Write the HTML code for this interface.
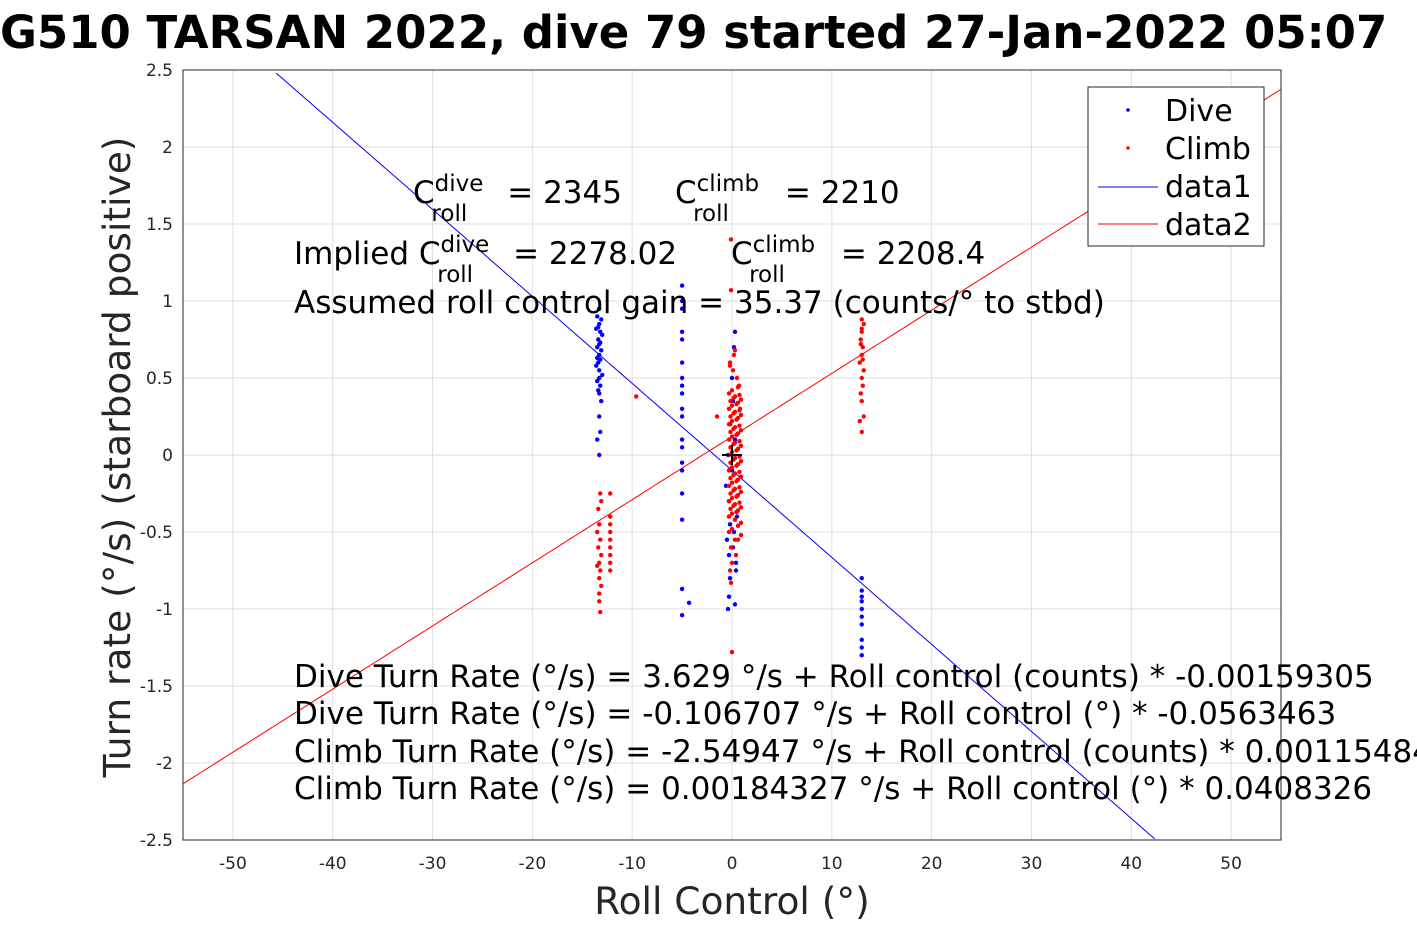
<!DOCTYPE html>
<html><head><meta charset="utf-8"><style>
body{margin:0;background:#fff;overflow:hidden;}
svg{display:block;font-family:"DejaVu Sans","Liberation Sans",sans-serif;}
</style></head><body>
<svg id="chart" width="1417" height="945" xmlns="http://www.w3.org/2000/svg">
<rect width="1417" height="945" fill="#fff"/>
<text x="0" y="48" font-size="45" font-weight="bold">G510 TARSAN 2022, dive 79 started 27-Jan-2022 05:07</text>
<rect x="183" y="70" width="1098" height="770" fill="#fff"/>
<g id="grid"></g>
<g id="axes"></g>
<g id="lines"></g>
<g id="points"></g>
<g font-size="31" fill="#000">
<text x="413" y="203">C<tspan font-size="23" dy="-12">dive</tspan><tspan font-size="23" dx="-52" dy="30">roll</tspan><tspan dy="-18" dx="40">= 2345</tspan></text>
<text x="675" y="203">C<tspan font-size="23" dy="-12">climb</tspan><tspan font-size="23" dx="-66" dy="30">roll</tspan><tspan dy="-18" dx="56">= 2210</tspan></text>
<text x="294" y="264">Implied C<tspan font-size="23" dy="-12">dive</tspan><tspan font-size="23" dx="-52" dy="30">roll</tspan><tspan dy="-18" dx="40">= 2278.02</tspan></text>
<text x="731" y="264">C<tspan font-size="23" dy="-12">climb</tspan><tspan font-size="23" dx="-66" dy="30">roll</tspan><tspan dy="-18" dx="56">= 2208.4</tspan></text>
<text x="294" y="313">Assumed roll control gain = 35.37 (counts/° to stbd)</text>
<text x="294" y="687">Dive Turn Rate (°/s) = 3.629 °/s + Roll control (counts) * -0.00159305</text>
<text x="294" y="724">Dive Turn Rate (°/s) = -0.106707 °/s + Roll control (°) * -0.0563463</text>
<text x="294" y="762">Climb Turn Rate (°/s) = -2.54947 °/s + Roll control (counts) * 0.00115484</text>
<text x="294" y="799">Climb Turn Rate (°/s) = 0.00184327 °/s + Roll control (°) * 0.0408326</text>
</g>
<g>
<rect x="1088" y="87" width="176" height="159" fill="#fff" stroke="#262626"/>
<circle cx="1128" cy="110" r="1.8" fill="#0000ff"/><text x="1165" y="121" font-size="30">Dive</text>
<circle cx="1128" cy="148" r="1.8" fill="#ff0000"/><text x="1165" y="159" font-size="30">Climb</text>
<line x1="1098" y1="187" x2="1158" y2="187" stroke="#0000ff"/><text x="1165" y="197" font-size="30">data1</text>
<line x1="1098" y1="224" x2="1158" y2="224" stroke="#ff0000"/><text x="1165" y="235" font-size="30">data2</text>
</g>
<text x="732" y="914" text-anchor="middle" font-size="37.5" fill="#262626">Roll Control (°)</text>
<text transform="translate(130,457) rotate(-90)" text-anchor="middle" font-size="37.5" fill="#262626">Turn rate (°/s) (starboard positive)</text>
</svg>
<script>
const xTicks=[-50,-40,-30,-20,-10,0,10,20,30,40,50];
const yTicks=[-2.5,-2,-1.5,-1,-0.5,0,0.5,1,1.5,2,2.5];
const diveFit=[-0.10,-0.0565];
const climbFit=[0.12,0.041];
const diveX=[-13.3,-13.5,-13.1,-13.3,-13.6,-13.2,-13.0,-13.4,-13.3,-13.5,-13.1,-13.3,-13.2,-13.4,-13.6,-13.3,-13.0,-13.3,-13.5,-13.2,-13.4,-13.3,-13.1,-13.3,-13.2,-13.5,-13.3,-13.4,-13.2,-13.5,
-5,-5,-5,-5,-5,-5,-5,-5,-5,-5,-5,-5,-5,-5,-5,-5,-5,-5,-5,-4.3,
-0.4,0.3,-0.2,0.4,-0.3,0.1,-0.5,0.2,-0.2,0.5,-0.3,-0.6,0.0,-0.4,0.3,-0.2,0.1,0.0,0.2,0.3,-0.3,0.4,
13,13,13,13,13,13,13,13,13,13];
const diveY=[0.95,0.9,0.88,0.85,0.82,0.8,0.78,0.75,0.72,0.7,0.68,0.65,0.62,0.6,0.58,0.55,0.52,0.5,0.48,0.45,0.42,0.4,0.35,0.25,0.15,0.1,0.0,0.83,0.73,0.63,
1.1,1.0,0.95,0.8,0.75,0.6,0.5,0.45,0.4,0.3,0.25,0.1,0.05,-0.05,-0.1,-0.25,-0.42,-0.87,-1.04,-0.96,
-1.0,-0.97,-0.8,-0.7,-0.65,-0.6,-0.55,-0.5,-0.45,-0.4,-0.3,-0.2,-0.1,0.0,0.1,0.2,0.35,0.5,0.7,0.8,-0.92,-0.75,
-0.8,-0.88,-0.92,-0.95,-1.0,-1.05,-1.1,-1.2,-1.25,-1.3];
const climbX=[-13.2,-13.1,-13.4,-13.3,-13.5,-13.2,-13.4,-13.1,-13.3,-13.5,-13.2,-13.3,-13.1,-13.3,-13.3,-13.2,
-12.2,-12.2,-12.2,-12.2,-12.2,-12.2,-12.2,-12.2,-12.2,-9.6,
-0.3,0.0,0.3,0.6,0.9,-0.3,0.0,0.3,0.6,0.9,-0.3,0.0,0.3,0.6,0.9,-0.3,0.0,0.3,0.6,0.9,-0.3,0.0,0.3,0.6,0.9,-0.3,0.0,0.3,0.6,0.9,-0.3,0.0,0.3,0.6,0.9,-0.3,0.0,0.3,0.6,0.9,-0.3,0.0,0.3,0.6,0.9,-0.3,0.0,0.3,0.6,0.9,
-0.15,0.15,0.45,0.75,-0.15,0.15,0.45,0.75,-0.15,0.15,0.45,0.75,-0.15,0.15,0.45,0.75,-0.15,0.15,0.45,0.75,-0.15,0.15,0.45,0.75,-0.15,0.15,0.45,0.75,-0.15,0.15,0.45,0.75,
0.1,0.5,-0.2,0.7,0.2,0.8,-0.1,0.4,0.0,-0.2,-0.2,0.6,-1.5,-0.1,0.3,
13,12.8,13.2,13,12.9,13.1,13,13.2,12.8,13,13.1,12.9,13,13.2,13,13.1,12.9,13,-0.1,-0.1,0.0];
const climbY=[-0.25,-0.3,-0.35,-0.45,-0.5,-0.55,-0.6,-0.65,-0.7,-0.72,-0.75,-0.8,-0.85,-0.9,-0.95,-1.02,
-0.25,-0.4,-0.45,-0.5,-0.55,-0.6,-0.65,-0.7,-0.75,0.38,
0.4,0.42,0.38,0.44,0.36,0.3,0.32,0.28,0.34,0.26,0.2,0.22,0.18,0.24,0.16,0.1,0.12,0.08,0.14,0.06,0.0,0.02,-0.02,0.04,-0.04,-0.1,-0.08,-0.12,-0.06,-0.14,-0.2,-0.18,-0.22,-0.16,-0.24,-0.3,-0.28,-0.32,-0.26,-0.34,-0.4,-0.38,-0.42,-0.36,-0.44,-0.5,-0.48,-0.55,-0.46,-0.52,
0.35,0.37,0.33,0.39,0.25,0.27,0.23,0.29,0.15,0.17,0.13,0.19,0.05,0.07,0.03,0.09,-0.05,-0.03,-0.07,-0.01,-0.15,-0.13,-0.17,-0.11,-0.25,-0.23,-0.27,-0.21,-0.35,-0.33,-0.37,-0.31,
0.55,0.5,0.6,0.45,0.65,0.3,-0.6,-0.65,-0.7,-0.75,0.58,-0.55,0.25,-0.83,0.68,
0.15,0.22,0.25,0.35,0.4,0.45,0.5,0.55,0.6,0.65,0.7,0.75,0.8,0.85,0.88,0.62,0.72,0.82,1.4,1.07,-1.28];
const L=183,R=1281,T=70,B=840,X0=-55,X1=55,Y0=-2.5,Y1=2.5;
const sx=v=>L+(v-X0)/(X1-X0)*(R-L), sy=v=>B-(v-Y0)/(Y1-Y0)*(B-T);
const NS='http://www.w3.org/2000/svg';
function mk(tag,parent,attrs){const e=document.createElementNS(NS,tag);for(const k in attrs)e.setAttribute(k,attrs[k]);document.getElementById(parent).appendChild(e);return e;}
xTicks.forEach(t=>{
 const g=mk('line','grid',{x1:sx(t),x2:sx(t),y1:T,y2:B,stroke:'#dfdfdf'});
 
 
 const tx=mk('text','axes',{x:sx(t),y:869,'text-anchor':'middle','font-size':17,fill:'#262626'});
 tx.textContent=t;
 
 
});
yTicks.forEach(t=>{
 const g=mk('line','grid',{x1:L,x2:R,y1:sy(t),y2:sy(t),stroke:'#dfdfdf'});
 
 
 const tx=mk('text','axes',{x:173,y:sy(t)+6,'text-anchor':'end','font-size':17,fill:'#262626'});
 tx.textContent=t;
 
 
});
const box=mk('rect','axes',{x:L,y:T,width:R-L,height:B-T,fill:'none',stroke:'#262626'});


function fitLine(f,color,name){
 const pts=[];for(let i=0;i<=200;i++){const x=X0+(X1-X0)*i/200;const y=f[0]+f[1]*x;if(y>=Y0&&y<=Y1)pts.push(sx(x)+','+sy(y));}
 const p=mk('polyline','lines',{points:pts.join(' '),fill:'none',stroke:color,'stroke-width':1});
 
 
}
fitLine(diveFit,'#0000ff','dive-fit-line');
fitLine(climbFit,'#ff0000','climb-fit-line');
diveX.forEach((x,i)=>{const c=mk('circle','points',{cx:sx(x),cy:sy(diveY[i]),r:2.2,fill:'#0000ff'});
 
 });
climbX.forEach((x,i)=>{const c=mk('circle','points',{cx:sx(x),cy:sy(climbY[i]),r:2.2,fill:'#ff0000'});
 
 });
const p1=mk('path','points',{d:`M${sx(0)-10},${sy(0)}h20M${sx(0)},${sy(0)-10}v20`,stroke:'#000','stroke-width':2});


</script>
</body></html>
